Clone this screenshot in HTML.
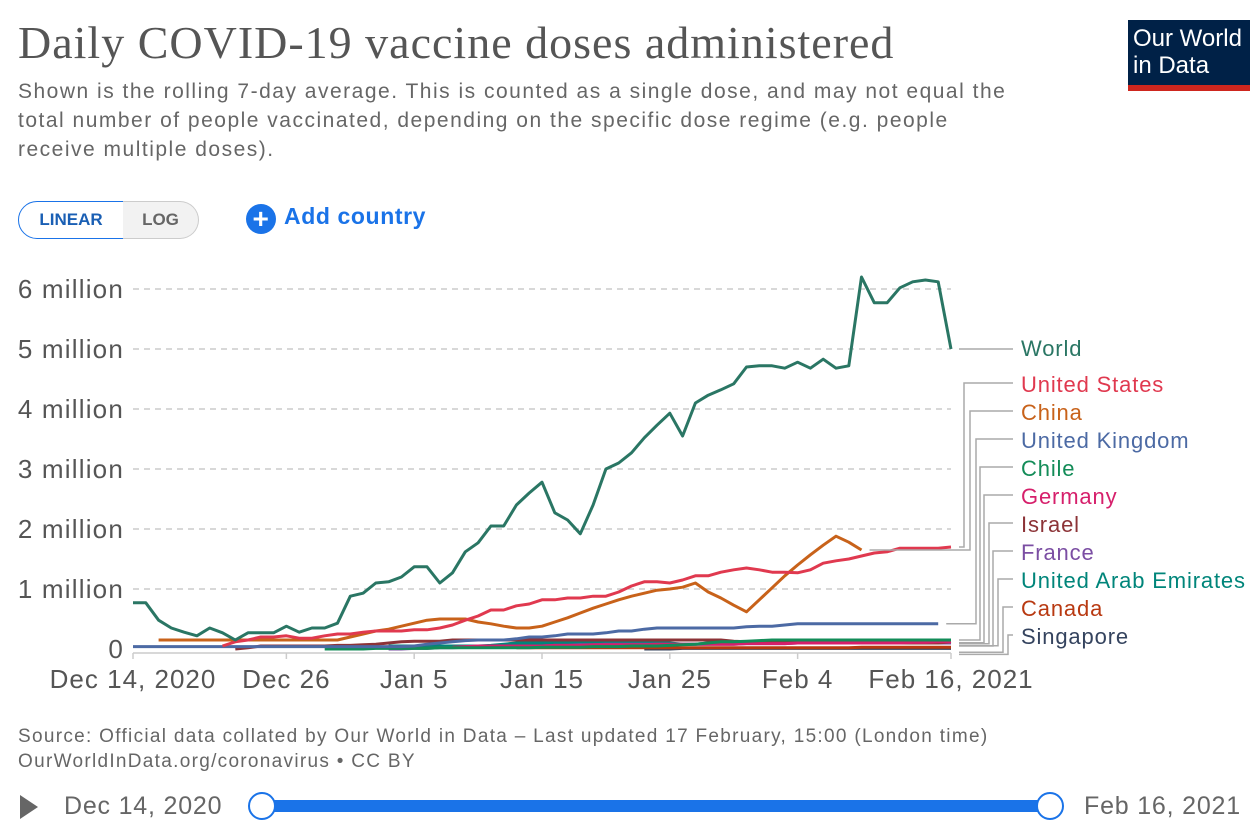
<!DOCTYPE html>
<html><head><meta charset="utf-8">
<style>
body{margin:0;width:1260px;height:840px;background:#fff;font-family:"Liberation Sans",sans-serif;overflow:hidden;position:relative}
.t{position:absolute;white-space:nowrap}
</style></head><body>
<div class="t" style="left:18px;top:16px;font-family:'Liberation Serif',serif;font-size:46px;letter-spacing:1px;color:#555">Daily COVID-19 vaccine doses administered</div>
<div class="t" style="left:18px;top:77px;font-size:21px;letter-spacing:1.5px;line-height:29px;color:#666">Shown is the rolling 7-day average. This is counted as a single dose, and may not equal the<br>total number of people vaccinated, depending on the specific dose regime (e.g. people<br>receive multiple doses).</div>
<div style="position:absolute;left:1128px;top:20px;width:122px;height:71px;background:#002147;border-bottom:6px solid #ce261e;box-sizing:border-box;color:#fff;font-size:24px;line-height:27px;padding:5px 0 0 5px">Our World<br>in Data</div>
<div style="position:absolute;left:18px;top:201px;width:104px;height:36px;border:1px solid #1a73e8;border-radius:19px 0 0 19px;color:#1a5fb4;font-weight:bold;font-size:17px;line-height:36px;text-align:center">LINEAR</div>
<div style="position:absolute;left:123px;top:201px;width:75px;height:36px;border:1px solid #ccc;border-left:none;border-radius:0 19px 19px 0;background:#f2f2f2;color:#666;font-weight:bold;font-size:17px;line-height:36px;text-align:center">LOG</div>
<div class="t" style="left:246px;top:203px;color:#1a73e8;font-weight:bold;font-size:23px;letter-spacing:0.6px"><span style="display:inline-block;width:30px;height:30px;border-radius:15px;background:#1a73e8;color:#fff;text-align:center;line-height:30px;font-size:28px;vertical-align:-4px;margin-right:8px">+</span>Add country</div>
<svg id="chart" width="1260" height="840" style="position:absolute;left:0;top:0"></svg>
<div class="t" style="left:18px;top:724px;font-size:19px;letter-spacing:1.3px;line-height:25px;color:#666">Source: Official data collated by Our World in Data – Last updated 17 February, 15:00 (London time)<br>OurWorldInData.org/coronavirus • CC BY</div>
<div style="position:absolute;left:20px;top:795px;width:0;height:0;border-left:18px solid #666;border-top:12px solid transparent;border-bottom:12px solid transparent"></div>
<div class="t" style="left:64px;top:792px;font-size:25px;letter-spacing:0.8px;color:#666">Dec 14, 2020</div>
<div class="t" style="left:1084px;top:792px;font-size:25px;letter-spacing:0.8px;color:#666">Feb 16, 2021</div>
<div style="position:absolute;left:262px;top:800px;width:790px;height:12px;background:#1a73e8;border-radius:6px"></div>
<div style="position:absolute;left:248px;top:792px;width:24px;height:24px;border:2px solid #1a73e8;background:#fff;border-radius:50%"></div>
<div style="position:absolute;left:1036px;top:792px;width:24px;height:24px;border:2px solid #1a73e8;background:#fff;border-radius:50%"></div>
<script>
const xTicks=["Dec 14, 2020","Dec 26","Jan 5","Jan 15","Jan 25","Feb 4","Feb 16, 2021"];
const xTickDays=[0,12,22,32,42,52,64];
const yTicks=[0,1,2,3,4,5,6];
const yTickLabels=["0","1 million","2 million","3 million","4 million","5 million","6 million"];
const seriesNames=["World","United States","China","United Kingdom","Chile","Germany","Israel","France","United Arab Emirates","Canada","Singapore"];
const seriesColors=["#2a7664","#e0394f","#c8621a","#4c6aa4","#138c58","#d61f6b","#8c3337","#7b4ea3","#00857a","#b83911","#34435e"];
const seriesStart=[0,7,2,0,15,25,8,20,20,30,40];
const world=[.77,.77,.48,.35,.28,.22,.35,.27,.15,.27,.27,.27,.38,.28,.35,.35,.43,.88,.93,1.1,1.12,1.2,1.37,1.37,1.1,1.27,1.62,1.77,2.05,2.05,2.4,2.6,2.78,2.27,2.15,1.92,2.4,3.0,3.1,3.27,3.52,3.73,3.93,3.55,4.1,4.23,4.32,4.42,4.7,4.72,4.72,4.68,4.78,4.68,4.83,4.68,4.72,6.2,5.77,5.77,6.02,6.12,6.15,6.12,5.0];
const us=[.05,.12,.15,.2,.2,.22,.18,.18,.22,.25,.25,.28,.3,.3,.3,.32,.32,.35,.4,.48,.55,.65,.65,.72,.75,.82,.82,.85,.85,.88,.88,.95,1.05,1.12,1.12,1.1,1.15,1.22,1.22,1.28,1.32,1.35,1.32,1.28,1.28,1.27,1.32,1.43,1.47,1.5,1.55,1.6,1.62,1.68,1.68,1.68,1.68,1.7];
const china=[.15,.15,.15,.15,.15,.15,.15,.15,.15,.15,.15,.15,.15,.15,.15,.2,.25,.3,.33,.38,.43,.48,.5,.5,.5,.45,.42,.38,.35,.35,.38,.45,.52,.6,.68,.75,.82,.88,.93,.98,1.0,1.03,1.1,.95,.85,.73,.62,.82,1.02,1.22,1.4,1.57,1.73,1.88,1.78,1.65];
const uk=[.04,.04,.04,.04,.04,.04,.04,.04,.04,.04,.04,.04,.04,.04,.04,.04,.04,.04,.04,.04,.04,.04,.05,.08,.1,.12,.14,.15,.15,.15,.17,.2,.2,.22,.25,.25,.25,.27,.3,.3,.33,.35,.35,.35,.35,.35,.35,.35,.37,.38,.38,.4,.42,.42,.42,.42,.42,.42,.42,.42,.42,.42,.42,.42];
const chile=[.0,.0,.0,.0,.01,.01,.01,.01,.01,.02,.02,.02,.02,.02,.02,.02,.02,.03,.03,.03,.03,.04,.04,.04,.05,.05,.05,.06,.07,.08,.1,.12,.12,.13,.14,.15,.15,.15,.15,.15,.15,.15,.15,.15,.15,.15,.15,.15,.15,.15];
const germany=[.03,.04,.05,.05,.05,.05,.05,.05,.06,.06,.06,.07,.07,.07,.07,.07,.08,.08,.08,.08,.08,.08,.08,.09,.09,.09,.09,.1,.1,.1,.1,.1,.1,.1,.1,.1,.11,.11,.12,.12];
const israel=[.0,.02,.05,.05,.05,.05,.05,.05,.06,.06,.07,.08,.1,.12,.13,.13,.13,.15,.15,.15,.15,.15,.15,.15,.15,.15,.15,.15,.15,.15,.15,.15,.15,.15,.15,.15,.15,.15,.15,.13,.12,.1,.1,.1,.1,.1,.1,.1,.1,.1,.1,.1,.1,.1,.1,.1,.12];
const france=[.0,.0,.01,.01,.02,.02,.03,.03,.04,.04,.05,.05,.05,.06,.06,.07,.07,.08,.08,.08,.08,.08,.08,.08,.08,.08,.08,.08,.09,.09,.09,.09,.1,.1,.1,.1,.1,.1,.1,.1,.1,.1,.1,.1,.1];
const uae=[.05,.05,.05,.05,.05,.05,.05,.05,.06,.08,.1,.1,.1,.1,.1,.1,.1,.1,.1,.1,.1,.1,.1,.08,.08,.1,.1,.12,.1,.12,.14,.12,.12,.12,.12,.12,.13,.14,.13,.12,.12,.12,.12,.12,.12];
const canada=[.02,.02,.02,.02,.02,.02,.02,.02,.02,.02,.02,.02,.02,.02,.02,.02,.02,.02,.02,.02,.02,.02,.02,.02,.02,.02,.02,.03,.03,.03,.03,.03,.03,.03,.03];
const singapore=[.0,.0,.0,.01,.01,.01,.01,.01,.01,.01,.01,.01,.01,.01,.01,.01,.01,.01,.01,.01,.01,.01,.01,.01,.01];
const seriesData=[world,us,china,uk,chile,germany,israel,france,uae,canada,singapore];
const labelY=[348,384,412,440,468,496,524,552,580,608,636];
const NS="http://www.w3.org/2000/svg";
const svg=document.getElementById("chart");
const x0=133,x1=951,y0=649,yTop=289;
const xs=d=>x0+(x1-x0)*d/64;
const ys=v=>y0-(y0-yTop)*v/6;
function mk(tag,attrs){const e=document.createElementNS(NS,tag);for(const k in attrs)e.setAttribute(k,attrs[k]);svg.appendChild(e);return e;}
yTicks.forEach((v,i)=>{
  if(v>0){const g=mk("line",{x1:x0,x2:x1,y1:ys(v),y2:ys(v),stroke:"#ccc","stroke-width":1.5,"stroke-dasharray":"6,5"});
  
  }
  const t=mk("text",{x:124,y:ys(v)+9,"text-anchor":"end","font-size":26,"letter-spacing":1.2,fill:"#555","font-family":"Liberation Sans, sans-serif"});
  t.textContent=yTickLabels[i];
  
  
});
const ax=mk("line",{x1:x0,x2:x1,y1:y0+4,y2:y0+4,stroke:"#ccc","stroke-width":1.5});


xTicks.forEach((lab,i)=>{
  const d=xTickDays[i];
  const tk=mk("line",{x1:xs(d),x2:xs(d),y1:y0+4,y2:y0+10,stroke:"#ccc","stroke-width":1.5});
  
  
  const t=mk("text",{x:xs(d),y:688,"text-anchor":"middle","font-size":26,"letter-spacing":1,fill:"#555","font-family":"Liberation Sans, sans-serif"});
  t.textContent=lab;
  
  
});
for(let s=seriesData.length-1;s>=0;s--){
  const arr=seriesData[s],st=seriesStart[s];
  const pts=arr.map((v,i)=>xs(st+i).toFixed(1)+","+ys(v).toFixed(1)).join(" ");
  const p=mk("polyline",{points:pts,fill:"none",stroke:seriesColors[s],"stroke-width":3,"stroke-linejoin":"round"});
  
  
}
const elbowX=[0,964,970,976,980,984,989,993,998,1003,1008];
seriesData.forEach((arr,s)=>{
  const st=seriesStart[s],last=arr.length-1;
  const ex=xs(st+last)+4,ey=ys(arr[last]);
  let d;
  if(s===0) d=`M${ex+4},${ey} H1013`;
  else d=`M${ex+4},${ey+(s>3?s-4:0)} H${elbowX[s]} V${labelY[s]-1} H1013`;
  const c=mk("path",{d:d,fill:"none",stroke:"#aaa","stroke-width":1.5});
  
  
  const t=mk("text",{x:1021,y:labelY[s]+8,"font-size":22,"letter-spacing":0.85,fill:seriesColors[s],"font-family":"Liberation Sans, sans-serif"});
  t.textContent=seriesNames[s];
  
  
});
</script>
</body></html>
